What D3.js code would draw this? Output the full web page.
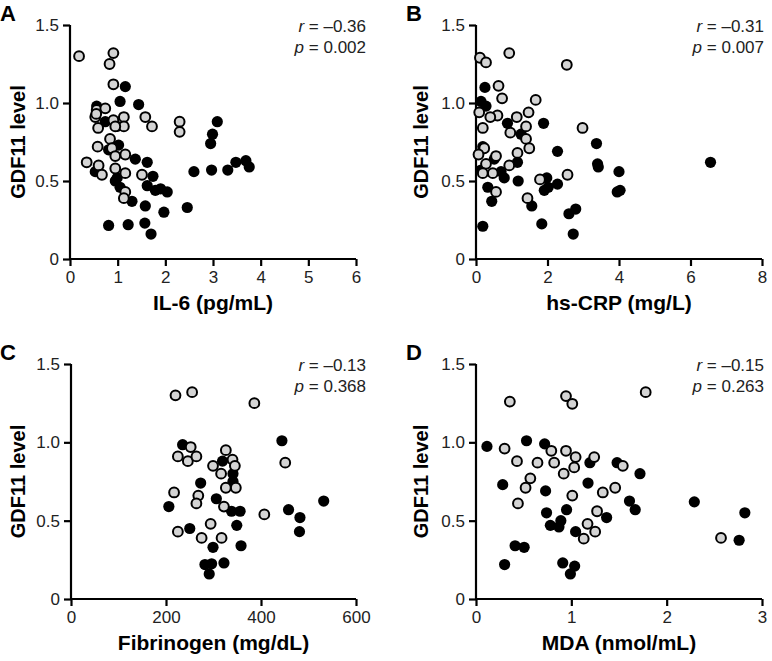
<!DOCTYPE html>
<html><head><meta charset="utf-8">
<script src="https://cdn.jsdelivr.net/npm/d3@7"></script>
<style>body{margin:0;background:#fff}svg{display:block}text{font-family:"Liberation Sans",Arial,sans-serif}</style>
</head><body>
<svg id="c" width="772" height="661"></svg>
<script>
// ---- data: [x, GDF11] pairs ----
const il6Grey = [[0.19,1.30],[0.91,1.32],[0.83,1.25],[0.91,1.12],[0.56,0.955],[0.74,0.966],[0.53,0.91],[0.59,0.84],[0.91,0.89],[1.13,0.91],[1.13,0.85],[0.95,0.85],[1.58,0.91],[1.72,0.85],[2.30,0.88],[2.30,0.815],[0.84,0.77],[0.58,0.72],[0.88,0.71],[0.95,0.66],[1.16,0.67],[0.35,0.62],[0.60,0.60],[0.67,0.54],[0.95,0.58],[1.16,0.55],[1.51,0.54],[1.16,0.43],[1.13,0.39],[0.55,0.93]];
const il6Black = [[1.16,1.105],[1.05,1.01],[1.44,0.99],[0.56,0.98],[0.74,0.88],[0.99,0.85],[3.09,0.88],[2.99,0.80],[2.95,0.74],[1.02,0.73],[0.81,0.70],[1.37,0.64],[1.62,0.62],[3.48,0.62],[3.69,0.63],[3.76,0.59],[2.97,0.57],[3.31,0.57],[2.60,0.56],[0.53,0.56],[0.95,0.50],[1.05,0.46],[1.62,0.47],[1.74,0.53],[1.79,0.44],[1.90,0.45],[2.04,0.43],[1.30,0.37],[1.58,0.34],[2.46,0.33],[1.97,0.30],[0.81,0.215],[1.22,0.22],[1.57,0.23],[1.70,0.16],[0.99,0.52]];
const crpGrey = [[0.11,1.29],[0.28,1.26],[0.93,1.32],[2.54,1.245],[0.63,1.11],[0.73,1.03],[1.67,1.02],[0.09,0.94],[0.60,0.92],[0.40,0.91],[1.14,0.91],[1.47,0.94],[0.19,0.84],[0.96,0.81],[1.40,0.85],[1.40,0.77],[1.49,0.71],[2.98,0.84],[0.23,0.71],[0.07,0.67],[0.56,0.66],[1.16,0.68],[0.28,0.61],[0.93,0.60],[0.47,0.55],[1.79,0.51],[2.56,0.54],[0.56,0.43],[1.44,0.39],[0.19,0.55]];
const crpBlack = [[0.25,1.10],[0.14,1.01],[0.28,0.98],[1.89,0.87],[0.88,0.87],[1.26,0.80],[0.19,0.72],[2.28,0.69],[3.37,0.74],[3.40,0.61],[3.42,0.59],[6.56,0.62],[0.51,0.64],[1.16,0.62],[4.00,0.56],[4.03,0.44],[3.95,0.43],[0.70,0.56],[0.79,0.52],[1.18,0.50],[1.98,0.52],[1.91,0.44],[2.02,0.46],[2.28,0.48],[0.33,0.46],[0.44,0.37],[1.56,0.34],[2.60,0.29],[2.79,0.32],[1.84,0.225],[0.19,0.21],[2.72,0.16],[0.14,0.57]];
const fibGrey = [[220,1.30],[255,1.32],[386,1.25],[252,0.97],[225,0.91],[246,0.88],[264,0.91],[326,0.95],[299,0.85],[316,0.80],[340,0.89],[345,0.85],[326,0.71],[347,0.71],[451,0.87],[217,0.68],[268,0.66],[264,0.61],[322,0.59],[407,0.54],[225,0.43],[294,0.48],[275,0.39],[317,0.39]];
const fibBlack = [[235,0.985],[319,0.88],[444,1.01],[341,0.80],[341,0.75],[273,0.74],[306,0.64],[206,0.59],[532,0.625],[458,0.57],[482,0.52],[481,0.43],[338,0.56],[356,0.56],[349,0.47],[250,0.45],[358,0.34],[299,0.33],[322,0.23],[282,0.22],[296,0.225],[291,0.16]];
const mdaGrey = [[0.355,1.26],[0.944,1.295],[1.01,1.246],[1.78,1.32],[0.30,0.96],[0.43,0.88],[0.645,0.87],[0.79,0.946],[0.82,0.87],[0.944,0.946],[1.045,0.906],[1.03,0.84],[0.92,0.80],[1.24,0.906],[1.54,0.85],[0.57,0.77],[0.52,0.71],[1.33,0.68],[1.46,0.71],[1.01,0.66],[0.44,0.61],[1.27,0.56],[1.17,0.48],[1.13,0.385],[1.25,0.43],[2.57,0.39]];
const mdaBlack = [[0.115,0.974],[0.53,1.01],[0.72,0.99],[1.195,0.87],[1.48,0.87],[1.72,0.80],[0.28,0.73],[1.175,0.74],[0.73,0.69],[1.61,0.625],[2.29,0.62],[1.67,0.57],[0.95,0.57],[0.74,0.55],[1.37,0.52],[2.82,0.55],[0.78,0.47],[0.89,0.50],[0.87,0.46],[1.045,0.43],[0.41,0.34],[0.505,0.33],[2.76,0.375],[0.30,0.22],[0.91,0.23],[1.035,0.21],[0.99,0.16]];

const yTicks = [0, 0.5, 1.0, 1.5];
const yTickLabels = ["0", "0.5", "1.0", "1.5"];

const panels = [
  {letter:"A", xTitle:"IL-6 (pg/mL)", xMax:6, xTicks:[0,1,2,3,4,5,6], r:"–0.36", p:"0.002", grey:il6Grey, black:il6Black},
  {letter:"B", xTitle:"hs-CRP (mg/L)", xMax:8, xTicks:[0,2,4,6,8], r:"–0.31", p:"0.007", grey:crpGrey, black:crpBlack},
  {letter:"C", xTitle:"Fibrinogen (mg/dL)", xMax:600, xTicks:[0,200,400,600], r:"–0.13", p:"0.368", grey:fibGrey, black:fibBlack},
  {letter:"D", xTitle:"MDA (nmol/mL)", xMax:3, xTicks:[0,1,2,3], r:"–0.15", p:"0.263", grey:mdaGrey, black:mdaBlack}
];

const svg = d3.select("#c");
const layout = [
  {x0:70, x1:356, y0:259, y1:25, lx:0, ty:17.5, tx:366},
  {x0:476, x1:762, y0:259, y1:25, lx:406, ty:421, tx:764},
  {x0:71, x1:356, y0:599, y1:364, lx:0, ty:17.5, tx:366},
  {x0:476, x1:762, y0:599, y1:364, lx:406, ty:421, tx:764}
];
const FONT = '"Liberation Sans",Arial,sans-serif';

panels.forEach((P, i) => {
  const L = layout[i];
  const x = d3.scaleLinear().domain([0, P.xMax]).range([L.x0, L.x1]);
  const y = d3.scaleLinear().domain([0, 1.5]).range([L.y0, L.y1]);
  const g = svg.append("g");

  const xa = g.append("g").attr("transform", `translate(0,${L.y0})`)
    .call(d3.axisBottom(x).tickValues(P.xTicks).tickSize(7).tickPadding(5).tickFormat(d3.format("d")));
  const ya = g.append("g").attr("transform", `translate(${L.x0},0)`)
    .call(d3.axisLeft(y).tickValues(yTicks).tickSize(7).tickPadding(4).tickFormat((d,j)=>yTickLabels[j]));
  [xa, ya].forEach(a => {
    a.select(".domain").attr("stroke", "#000").attr("stroke-width", 2.2);
    a.selectAll(".tick line").attr("stroke", "#000").attr("stroke-width", 2.2);
    a.selectAll(".tick text").attr("font-size", 17).attr("fill", "#222").style("font-family", FONT);
  });
  xa.select(".domain").attr("d", `M${L.x0},0H${L.x1}`);
  ya.select(".domain").attr("d", `M0,${L.y0}V${L.y1}`);

  const dots = g.append("g");
  dots.selectAll("circle.b").data(P.black).join("circle").attr("class","b")
    .attr("cx", d => x(d[0])).attr("cy", d => y(d[1])).attr("r", 5.6)
    .attr("fill", "#000");
  dots.selectAll("circle.g").data(P.grey).join("circle").attr("class","g")
    .attr("cx", d => x(d[0])).attr("cy", d => y(d[1])).attr("r", 4.9)
    .attr("fill", "#d4d4d4").attr("stroke", "#000").attr("stroke-width", 2);

  // titles
  g.append("text").attr("x", (L.x0 + L.x1) / 2).attr("y", L.y0 + 51)
    .attr("text-anchor", "middle").attr("font-size", 21).attr("font-weight", "bold").text(P.xTitle);
  g.append("text").attr("transform", `translate(${L.ty + 7},${(L.y0 + L.y1) / 2}) rotate(-90)`)
    .attr("text-anchor", "middle").attr("font-size", 20).attr("font-weight", "bold").text("GDF11 level");
  g.append("text").attr("x", L.lx).attr("y", L.y1 - 4)
    .attr("font-size", 22).attr("font-weight", "bold").text(P.letter);

  const t1 = g.append("text").attr("x", L.tx).attr("y", L.y1 + 7).attr("text-anchor", "end").attr("font-size", 17).attr("fill", "#222");
  t1.append("tspan").attr("font-style", "italic").text("r");
  t1.append("tspan").text(" = " + P.r);
  const t2 = g.append("text").attr("x", L.tx).attr("y", L.y1 + 28).attr("text-anchor", "end").attr("font-size", 17).attr("fill", "#222");
  t2.append("tspan").attr("font-style", "italic").text("p");
  t2.append("tspan").text(" = " + P.p);
});
</script>
</body></html>
